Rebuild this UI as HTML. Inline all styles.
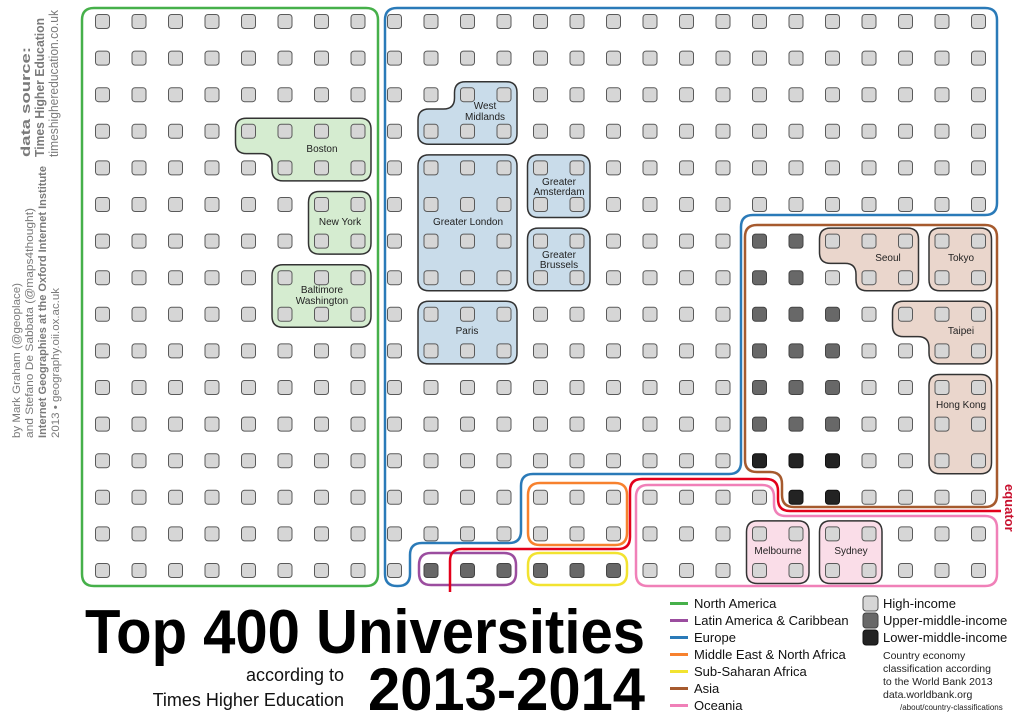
<!DOCTYPE html>
<html><head><meta charset="utf-8">
<style>
html,body{margin:0;padding:0;background:#fff;}
svg{display:block;font-family:"Liberation Sans",Arial,sans-serif;}
</style></head>
<body>
<svg id="s" width="1024" height="724" viewBox="0 0 1024 724" xmlns="http://www.w3.org/2000/svg">
<g id="regions"></g>
<g id="cities"></g>
<g id="sq"></g>
<g id="labels" font-size="10" fill="#222" text-anchor="middle">
<text x="322" y="152">Boston</text>
<text x="340" y="225">New York</text>
<text x="322" y="293">Baltimore</text>
<text x="322" y="304">Washington</text>
<text x="485" y="109">West</text>
<text x="485" y="120">Midlands</text>
<text x="468" y="225">Greater London</text>
<text x="559" y="185">Greater</text>
<text x="559" y="195">Amsterdam</text>
<text x="559" y="258">Greater</text>
<text x="559" y="268">Brussels</text>
<text x="467" y="334">Paris</text>
<text x="888" y="261">Seoul</text>
<text x="961" y="261">Tokyo</text>
<text x="961" y="334">Taipei</text>
<text x="961" y="408">Hong Kong</text>
<text x="778" y="554">Melbourne</text>
<text x="851" y="554">Sydney</text>
</g>
<text transform="translate(1005,484) rotate(90)" font-size="13" font-weight="bold" fill="#c8102e">equator</text>
<g fill="#7a7a7a" font-size="12.5">
<text transform="translate(30,157) rotate(-90)" font-weight="bold" textLength="110" lengthAdjust="spacingAndGlyphs">data source:</text>
<text transform="translate(44,157) rotate(-90)" font-weight="bold" textLength="139" lengthAdjust="spacingAndGlyphs">Times Higher Education</text>
<text transform="translate(58,157) rotate(-90)" textLength="147" lengthAdjust="spacingAndGlyphs">timeshighereducation.co.uk</text>
</g>
<g fill="#7a7a7a" font-size="11">
<text transform="translate(20,438) rotate(-90)" textLength="155" lengthAdjust="spacingAndGlyphs">by Mark Graham (@geoplace)</text>
<text transform="translate(33,438) rotate(-90)" textLength="230" lengthAdjust="spacingAndGlyphs">and Stefano De Sabbata (@maps4thought)</text>
<text transform="translate(46,438) rotate(-90)" font-weight="bold" textLength="272" lengthAdjust="spacingAndGlyphs">Internet Geographies at the Oxford Internet Institute</text>
<text transform="translate(59,438) rotate(-90)" textLength="150" lengthAdjust="spacingAndGlyphs">2013 • geography.oii.ox.ac.uk</text>
</g>
<text x="85" y="653" font-size="62" font-weight="bold" fill="#000" textLength="560" lengthAdjust="spacingAndGlyphs">Top 400 Universities</text>
<text x="368" y="710" font-size="60" font-weight="bold" fill="#000" textLength="277" lengthAdjust="spacingAndGlyphs">2013-2014</text>
<text x="344" y="681" font-size="18" text-anchor="end" fill="#111">according to</text>
<text x="344" y="706" font-size="18" text-anchor="end" fill="#111">Times Higher Education</text>
<g font-size="13" fill="#111">
<rect x="670" y="602" width="18" height="3" fill="#46b04a"/><text x="694" y="608">North America</text>
<rect x="670" y="619" width="18" height="3" fill="#9b4d9f"/><text x="694" y="625">Latin America &amp; Caribbean</text>
<rect x="670" y="636" width="18" height="3" fill="#2a7ab8"/><text x="694" y="642">Europe</text>
<rect x="670" y="653" width="18" height="3" fill="#f7812e"/><text x="694" y="659">Middle East &amp; North Africa</text>
<rect x="670" y="670" width="18" height="3" fill="#f2e330"/><text x="694" y="676">Sub-Saharan Africa</text>
<rect x="670" y="687" width="18" height="3" fill="#a65a2e"/><text x="694" y="693">Asia</text>
<rect x="670" y="704" width="18" height="3" fill="#f080b8"/><text x="694" y="710">Oceania</text>
<rect x="863" y="596" width="15" height="15" rx="3" fill="#d6d6d6" stroke="#555"/><text x="883" y="608">High-income</text>
<rect x="863" y="613" width="15" height="15" rx="3" fill="#686868" stroke="#444"/><text x="883" y="625">Upper-middle-income</text>
<rect x="863" y="630" width="15" height="15" rx="3" fill="#232323" stroke="#111"/><text x="883" y="642">Lower-middle-income</text>
</g>
<g font-size="10.5" fill="#222">
<text x="883" y="659">Country economy</text>
<text x="883" y="672">classification according</text>
<text x="883" y="685">to the World Bank 2013</text>
<text x="883" y="698">data.worldbank.org</text>
<text x="900" y="710" font-size="8">/about/country-classifications</text>
</g>
</svg>
<script>
var NS="http://www.w3.org/2000/svg";
function el(p,t,a){var e=document.createElementNS(NS,t);for(var k in a)e.setAttribute(k,a[k]);document.getElementById(p).appendChild(e);return e;}
function cx(i){return 102.5+36.5*i;}
function cy(j){return 21.5+36.6*j;}
function rp(pts,r,closed){
 var n=pts.length,d="";
 function pt(a,b,t){return [a[0]+(b[0]-a[0])*t,a[1]+(b[1]-a[1])*t];}
 function len(a,b){return Math.hypot(b[0]-a[0],b[1]-a[1]);}
 if(closed){
  for(var i=0;i<n;i++){
   var p=pts[(i-1+n)%n],c=pts[i],q=pts[(i+1)%n];
   var r1=Math.min(r,len(p,c)/2),r2=Math.min(r,len(c,q)/2);
   var a=pt(c,p,r1/len(c,p)),b=pt(c,q,r2/len(c,q));
   d+=(i==0?"M":"L")+a[0]+","+a[1]+"Q"+c[0]+","+c[1]+" "+b[0]+","+b[1];
  }
  return d+"Z";
 } else {
  d="M"+pts[0][0]+","+pts[0][1];
  for(var i=1;i<n-1;i++){
   var p=pts[i-1],c=pts[i],q=pts[i+1];
   var r1=Math.min(r,len(p,c)/2),r2=Math.min(r,len(c,q)/2);
   var a=pt(c,p,r1/len(c,p)),b=pt(c,q,r2/len(c,q));
   d+="L"+a[0]+","+a[1]+"Q"+c[0]+","+c[1]+" "+b[0]+","+b[1];
  }
  return d+"L"+pts[n-1][0]+","+pts[n-1][1];
 }
}
function reg(pts,col,closed){el("regions","path",{d:rp(pts,12,closed!==false),fill:"none",stroke:col,"stroke-width":2.5});}
reg([[82,8],[378,8],[378,586],[82,586]],"#46b04a");
reg([[385,8],[997,8],[997,215],[741,215],[741,474],[521,474],[521,543],[410,543],[410,586],[385,586]],"#2a7ab8");
reg([[745,225],[997,225],[997,507],[782,507],[782,472],[745,472]],"#a65a2e");
reg([[636,485],[774,485],[774,516],[997,516],[997,586],[636,586]],"#f080b8");
reg([[528,483],[627,483],[627,545],[528,545]],"#f7812e");
reg([[528,553],[627,553],[627,585],[528,585]],"#f2e330");
reg([[419,553],[516,553],[516,585],[419,585]],"#9b4d9f");
reg([[1001,511],[778,511],[778,479],[630,479],[630,549],[450,549],[450,592]],"#e3001b",false);
var P=13;
function box(c1,c2,r1,r2,f){var pts=[[cx(c1)-P,cy(r1)-P],[cx(c2)+P,cy(r1)-P],[cx(c2)+P,cy(r2)+P],[cx(c1)-P,cy(r2)+P]];el("cities","path",{d:rp(pts,11,true),fill:f,stroke:"#333","stroke-width":1.5});}
function notchBL(t1,t2,b1,r1,r2,f){
 var m=(cy(r1)+cy(r1+1))/2;
 var pts=[[cx(t1)-P,cy(r1)-P],[cx(t2)+P,cy(r1)-P],[cx(t2)+P,cy(r2)+P],[cx(b1)-P,cy(r2)+P],[cx(b1)-P,m+4],[cx(t1)-P,m+4]];
 el("cities","path",{d:rp(pts,11,true),fill:f,stroke:"#333","stroke-width":1.5});}
function notchTL(t1,b1,b2,r1,r2,f){
 var m=(cy(r1)+cy(r2))/2;
 var pts=[[cx(t1)-P,cy(r1)-P],[cx(b2)+P,cy(r1)-P],[cx(b2)+P,cy(r2)+P],[cx(b1)-P,cy(r2)+P],[cx(b1)-P,m-4],[cx(t1)-P,m-4]];
 el("cities","path",{d:rp(pts,11,true),fill:f,stroke:"#333","stroke-width":1.5});}
var G="#d5ecd0",B="#c9dcea",A="#ead6cc",O="#fadde8";
notchBL(4,7,5,3,4,G);
box(6,7,5,6,G);
box(5,7,7,8,G);
notchTL(10,9,11,2,3,B);
box(9,11,4,7,B);
box(12,13,4,5,B);
box(12,13,6,7,B);
box(9,11,8,9,B);
notchBL(20,22,21,6,7,A);
box(23,24,6,7,A);
notchBL(22,24,23,8,9,A);
box(23,24,10,12,A);
box(18,19,14,15,O);
box(20,21,14,15,O);
var um={},lm={};
function S(i,j,t){(t?lm:um)[i+","+j]=1;}
for(var j=6;j<=11;j++){S(18,j);S(19,j);}
for(var j=8;j<=11;j++){S(20,j);}
S(18,12,1);S(19,12,1);S(20,12,1);S(19,13,1);S(20,13,1);
[9,10,11,12,13,14].forEach(function(i){S(i,15);});
for(var j=0;j<16;j++)for(var i=0;i<25;i++){
 var k=i+","+j,f="#d6d6d6",s="#5a5a5a";
 if(um[k]){f="#686868";s="#444";}
 if(lm[k]){f="#232323";s="#111";}
 el("sq","rect",{x:cx(i)-7,y:cy(j)-7,width:14,height:14,rx:3,fill:f,stroke:s,"stroke-width":1});
}
</script>
</body></html>
